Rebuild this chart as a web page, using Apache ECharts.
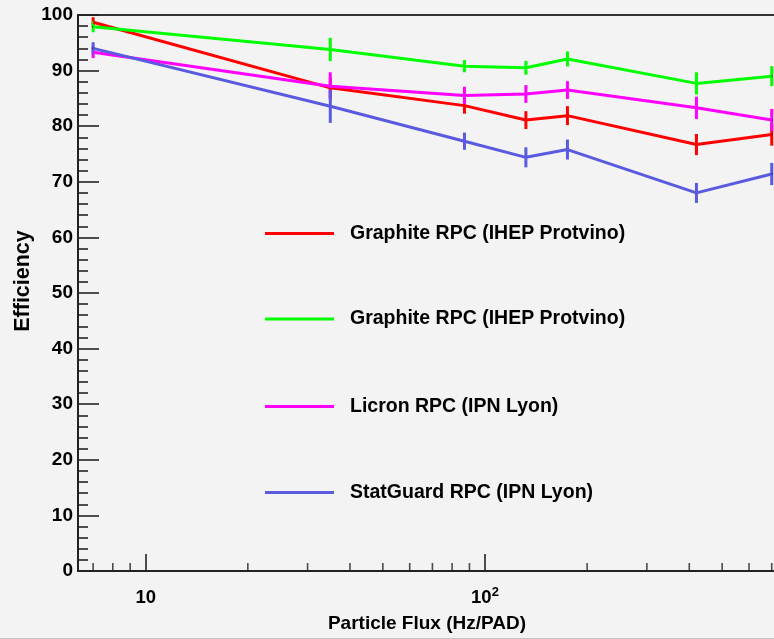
<!DOCTYPE html>
<html>
<head>
<meta charset="utf-8">
<script src="https://cdn.jsdelivr.net/npm/echarts@6/dist/echarts.min.js"></script>
<style>
html,body{margin:0;padding:0;background:#f3f3f3;}
#c{width:774px;height:639px;}
</style>
</head>
<body>
<div id="c"></div>
<script>
// ---- data ----
const flux = [7, 35, 87, 132, 175, 420, 700];
const seriesNames = ['Graphite RPC (IHEP Protvino)', 'Graphite RPC (IHEP Protvino) ', 'Licron RPC (IPN Lyon)', 'StatGuard RPC (IPN Lyon)'];
const redEff = [98.7, 86.9, 83.7, 81.1, 81.9, 76.7, 78.5];
const redErr = [0.9, 1.8, 1.45, 1.6, 1.7, 1.9, 2.0];
const greenEff = [97.9, 93.8, 90.8, 90.5, 92.1, 87.7, 89.0];
const greenErr = [1.0, 2.1, 1.1, 1.25, 1.35, 2.0, 1.8];
const magentaEff = [93.3, 87.2, 85.5, 85.8, 86.5, 83.3, 81.1];
const magentaErr = [1.05, 2.5, 1.6, 1.6, 1.6, 2.0, 2.0];
const blueEff = [94.0, 83.6, 77.3, 74.4, 75.8, 68.0, 71.4];
const blueErr = [1.1, 3.0, 1.55, 1.8, 1.8, 1.8, 2.0];
const xMinorTicks = [7, 8, 9, 20, 30, 40, 50, 60, 70, 80, 90, 200, 300, 400, 500, 600, 700];
const xMin = 6.317, xMax = 720.6;
const yMin = 0, yMax = 100, yInterval = 10;
const colors = ['#ff0000', '#00ff00', '#ff00ff', '#5a5ae0'];
const effs = [redEff, greenEff, magentaEff, blueEff];
const errs = [redErr, greenErr, magentaErr, blueErr];
const legendCenters = [233.5, 319, 406.5, 492.5];

const FONT = '"Liberation Sans Narrow", "Liberation Sans", Arial, sans-serif';

const chart = echarts.init(document.getElementById('c'), null, {renderer: 'canvas'});

const series = [];
effs.forEach((eff, i) => {
  series.push({
    type: 'line', name: seriesNames[i], data: flux.map((x, k) => [x, eff[k]]),
    showSymbol: false, symbol: 'none', lineStyle: {color: colors[i], width: 3},
    itemStyle: {color: colors[i]}, animation: false, silent: true, clip: false
  });
  series.push({
    type: 'custom', name: 'err' + i, data: flux.map((x, k) => [x, eff[k], errs[i][k]]),
    encode: {x: 0, y: 1}, animation: false, silent: true, clip: false,
    renderItem: function (params, api) {
      const x = api.value(0), y = api.value(1), e = api.value(2);
      const top = api.coord([x, y + e]);
      const bot = api.coord([x, y - e]);
      const c = api.coord([x, y]);
      return {type: 'group', children: [
        {type: 'line', shape: {x1: top[0], y1: top[1], x2: bot[0], y2: bot[1]}, style: {stroke: colors[i], lineWidth: 3}},
        {type: 'rect', shape: {x: c[0] - 0.75, y: c[1] - 0.75, width: 1.5, height: 1.5}, style: {fill: '#000'}}
      ]};
    }
  });
});
series.push({
  type: 'scatter', name: 'minorTicks', data: xMinorTicks.map(v => [v, 0]),
  symbol: 'rect', symbolSize: [1.6, 8], symbolOffset: [0, -4], itemStyle: {color: '#222'},
  silent: true, animation: false, clip: false, z: 5
});

const legends = seriesNames.map((n, i) => ({
  data: [n], orient: 'vertical', left: 265, top: legendCenters[i] - 12, padding: 0,
  icon: 'rect', itemWidth: 69, itemHeight: 3, selectedMode: false,
  textStyle: {fontFamily: FONT, fontWeight: 'bold', fontSize: 19.5, color: '#000', lineHeight: 24, padding: [0, 0, 0, 11]}
}));

chart.setOption({
  backgroundColor: '#f3f3f3',
  animation: false,
  legend: legends,
  grid: {left: 78, right: -2, top: 15, bottom: 68, show: true, borderColor: '#333', borderWidth: 2, backgroundColor: 'transparent', outerBoundsMode: 'none'},
  xAxis: {
    type: 'log', logBase: 10, min: xMin, max: xMax,
    axisLine: {show: true, lineStyle: {color: '#222', width: 2}},
    axisTick: {show: true, inside: true, length: 17, lineStyle: {color: '#222', width: 1.6}},
    minorTick: {show: false}, splitLine: {show: false}, minorSplitLine: {show: false},
    axisLabel: {
      showMinLabel: false, showMaxLabel: false, margin: 15,
      fontFamily: FONT, fontWeight: 'bold', fontSize: 18, color: '#000',
      formatter: function (v) {
        const p = Math.round(Math.log10(v));
        return p === 1 ? '{b|10}' : '{b|10}{s|' + p + '}';
      },
      rich: {
        b: {fontFamily: FONT, fontWeight: 'bold', fontSize: 18.5, color: '#000', lineHeight: 24},
        s: {fontFamily: FONT, fontWeight: 'bold', fontSize: 13, color: '#000', lineHeight: 10, verticalAlign: 'top'}
      }
    },
    name: 'Particle Flux (Hz/PAD)', nameLocation: 'middle', nameGap: 43,
    nameTextStyle: {fontFamily: FONT, fontWeight: 'bold', fontSize: 19, color: '#000'}
  },
  yAxis: {
    type: 'value', min: yMin, max: yMax, interval: yInterval,
    axisLine: {show: true, lineStyle: {color: '#222', width: 2}},
    axisTick: {show: true, inside: true, length: 21, lineStyle: {color: '#222', width: 1.6}},
    minorTick: {show: true, splitNumber: 5, length: 10, lineStyle: {color: '#222', width: 1.6}},
    splitLine: {show: false},
    axisLabel: {margin: 5, fontFamily: FONT, fontWeight: 'bold', fontSize: 19, color: '#000'}
  },
  graphic: [
    {type: 'text', x: 22.7, y: 281, rotation: Math.PI / 2, silent: true,
     style: {text: 'Efficiency', fontFamily: FONT, fontWeight: 'bold', fontSize: 21.5, fill: '#000', align: 'center', verticalAlign: 'middle'}},
    {type: 'line', silent: true, shape: {x1: 0, y1: 638.5, x2: 774, y2: 638.5}, style: {stroke: '#c4c4c4', lineWidth: 1}}
  ],
  series: series
});
</script>
</body>
</html>
